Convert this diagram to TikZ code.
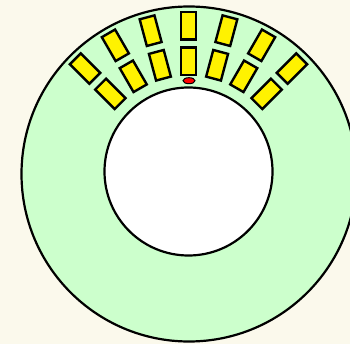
\documentclass[tikz,border=0pt]{standalone}
\usetikzlibrary{shapes.geometric}
\definecolor{bgbeige}{HTML}{FBF9EC}
\definecolor{ringgreen}{HTML}{CCFFCC}
\begin{document}
\begin{tikzpicture}[x=1pt,y=-1pt,
  slot/.style={draw=black, line width=2.4pt, fill=yellow, minimum width=15.3pt, minimum height=27.6pt, inner sep=0pt},
  ringline/.style={draw=black, line width=2.2pt}]
\useasboundingbox (0,0) rectangle (350,344);
\fill[bgbeige] (0,0) rectangle (350,344);
\clip (0,0) rectangle (350,344);
\draw[ringline, fill=ringgreen] (189,174) circle (167.5);
\draw[ringline, fill=white] (188.5,171.5) circle (84);
\node (dot) [ellipse, draw=black, line width=1pt, fill=red, minimum width=12pt, minimum height=6pt, inner sep=0pt] at (189,80.7) {};
\foreach \a [count=\i] in {-45,-30,-15,0,15,30,45} {
  \node[slot, rotate=-\a] (inner\i) at ({188.5+110.5*sin(\a)},{172-110.5*cos(\a)}) {};
  \node[slot, rotate=-\a] (outer\i) at ({188.5+146.3*sin(\a)},{172-146.3*cos(\a)}) {};
}
\end{tikzpicture}
\end{document}
